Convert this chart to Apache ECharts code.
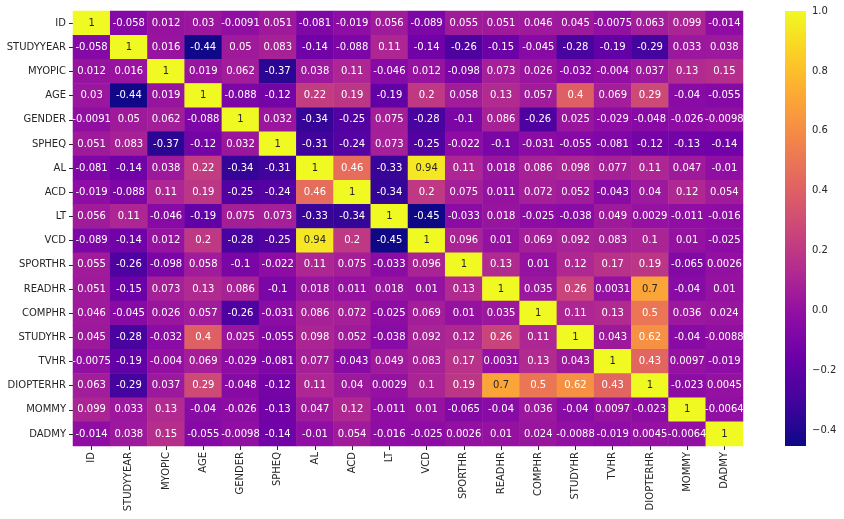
<!DOCTYPE html>
<html><head><meta charset="utf-8">
<script src="https://cdn.jsdelivr.net/npm/echarts@6/dist/echarts.min.js"></script>
<style>html,body{margin:0;padding:0;background:#fff}#c{width:844px;height:519px}</style>
</head><body><div id="c"></div>
<script>
const labels = ['ID','STUDYYEAR','MYOPIC','AGE','GENDER','SPHEQ','AL','ACD','LT','VCD','SPORTHR','READHR','COMPHR','STUDYHR','TVHR','DIOPTERHR','MOMMY','DADMY'];
const rowID        = [1,-0.058,0.012,0.03,-0.0091,0.051,-0.081,-0.019,0.056,-0.089,0.055,0.051,0.046,0.045,-0.0075,0.063,0.099,-0.014];
const rowSTUDYYEAR = [-0.058,1,0.016,-0.44,0.05,0.083,-0.14,-0.088,0.11,-0.14,-0.26,-0.15,-0.045,-0.28,-0.19,-0.29,0.033,0.038];
const rowMYOPIC    = [0.012,0.016,1,0.019,0.062,-0.37,0.038,0.11,-0.046,0.012,-0.098,0.073,0.026,-0.032,-0.004,0.037,0.13,0.15];
const rowAGE       = [0.03,-0.44,0.019,1,-0.088,-0.12,0.22,0.19,-0.19,0.2,0.058,0.13,0.057,0.4,0.069,0.29,-0.04,-0.055];
const rowGENDER    = [-0.0091,0.05,0.062,-0.088,1,0.032,-0.34,-0.25,0.075,-0.28,-0.1,0.086,-0.26,0.025,-0.029,-0.048,-0.026,-0.0098];
const rowSPHEQ     = [0.051,0.083,-0.37,-0.12,0.032,1,-0.31,-0.24,0.073,-0.25,-0.022,-0.1,-0.031,-0.055,-0.081,-0.12,-0.13,-0.14];
const rowAL        = [-0.081,-0.14,0.038,0.22,-0.34,-0.31,1,0.46,-0.33,0.94,0.11,0.018,0.086,0.098,0.077,0.11,0.047,-0.01];
const rowACD       = [-0.019,-0.088,0.11,0.19,-0.25,-0.24,0.46,1,-0.34,0.2,0.075,0.011,0.072,0.052,-0.043,0.04,0.12,0.054];
const rowLT        = [0.056,0.11,-0.046,-0.19,0.075,0.073,-0.33,-0.34,1,-0.45,-0.033,0.018,-0.025,-0.038,0.049,0.0029,-0.011,-0.016];
const rowVCD       = [-0.089,-0.14,0.012,0.2,-0.28,-0.25,0.94,0.2,-0.45,1,0.096,0.01,0.069,0.092,0.083,0.1,0.01,-0.025];
const rowSPORTHR   = [0.055,-0.26,-0.098,0.058,-0.1,-0.022,0.11,0.075,-0.033,0.096,1,0.13,0.01,0.12,0.17,0.19,-0.065,0.0026];
const rowREADHR    = [0.051,-0.15,0.073,0.13,0.086,-0.1,0.018,0.011,0.018,0.01,0.13,1,0.035,0.26,0.0031,0.7,-0.04,0.01];
const rowCOMPHR    = [0.046,-0.045,0.026,0.057,-0.26,-0.031,0.086,0.072,-0.025,0.069,0.01,0.035,1,0.11,0.13,0.5,0.036,0.024];
const rowSTUDYHR   = [0.045,-0.28,-0.032,0.4,0.025,-0.055,0.098,0.052,-0.038,0.092,0.12,0.26,0.11,1,0.043,0.62,-0.04,-0.0088];
const rowTVHR      = [-0.0075,-0.19,-0.004,0.069,-0.029,-0.081,0.077,-0.043,0.049,0.083,0.17,0.0031,0.13,0.043,1,0.43,0.0097,-0.019];
const rowDIOPTERHR = [0.063,-0.29,0.037,0.29,-0.048,-0.12,0.11,0.04,0.0029,0.1,0.19,0.7,0.5,0.62,0.43,1,-0.023,0.0045];
const rowMOMMY     = [0.099,0.033,0.13,-0.04,-0.026,-0.13,0.047,0.12,-0.011,0.01,-0.065,-0.04,0.036,-0.04,0.0097,-0.023,1,-0.0064];
const rowDADMY     = [-0.014,0.038,0.15,-0.055,-0.0098,-0.14,-0.01,0.054,-0.016,-0.025,0.0026,0.01,0.024,-0.0088,-0.019,0.0045,-0.0064,1];
const colorbarTicks = [-0.4,-0.2,0,0.2,0.4,0.6,0.8,1.0];
const vMin = -0.452, vMax = 1.0;

const rows = [rowID,rowSTUDYYEAR,rowMYOPIC,rowAGE,rowGENDER,rowSPHEQ,rowAL,rowACD,rowLT,rowVCD,rowSPORTHR,rowREADHR,rowCOMPHR,rowSTUDYHR,rowTVHR,rowDIOPTERHR,rowMOMMY,rowDADMY];
const plasma = ['#0d0887','#41049d','#6a00a8','#8f0da4','#b12a90','#cc4778','#e16462','#f2844b','#fca636','#fcce25','#f0f921'];

const data = [];
rows.forEach((r, i) => r.forEach((v, j) => {
  data.push({value: [j, i, v], label: {color: v > 0.65 ? '#262626' : '#ffffff'}});
}));
const fmt = v => String(Number(v.toPrecision(2)));
const FONT = 'DejaVu Sans';

const chart = echarts.init(document.getElementById('c'), null, {renderer: 'canvas'});
chart.setOption({
  animation: false,
  backgroundColor: '#ffffff',
  textStyle: {fontFamily: FONT},
  grid: [
    {left: 73, top: 11, width: 670, height: 435},
    {left: 785, top: 11, width: 21, height: 435}
  ],
  xAxis: [
    {type: 'category', data: labels, gridIndex: 0, position: 'bottom',
     axisLine: {show: false}, splitLine: {show: false},
     axisTick: {show: true, alignWithLabel: true, length: 4, lineStyle: {color: '#262626'}},
     axisLabel: {rotate: 90, interval: 0, margin: 6, color: '#262626', fontSize: 10, fontFamily: FONT}},
    {type: 'value', gridIndex: 1, show: false, min: 0, max: 1}
  ],
  yAxis: [
    {type: 'category', data: labels, gridIndex: 0, inverse: true,
     axisLine: {show: false}, splitLine: {show: false},
     axisTick: {show: true, alignWithLabel: true, length: 4, lineStyle: {color: '#262626'}},
     axisLabel: {interval: 0, margin: 7, color: '#262626', fontSize: 10, fontFamily: FONT}},
    {type: 'value', gridIndex: 1, position: 'right', min: vMin, max: vMax,
     axisLine: {show: false}, splitLine: {show: false},
     axisTick: {show: true, length: 4, customValues: colorbarTicks, lineStyle: {color: '#262626'}},
     axisLabel: {show: true, margin: 6, customValues: colorbarTicks, color: '#262626', fontSize: 10, fontFamily: FONT,
       formatter: v => (v < 0 ? '\u2212' : '') + Math.abs(v).toFixed(1)}}
  ],
  visualMap: {
    type: 'continuous', seriesIndex: 0, min: vMin, max: vMax, show: false,
    inRange: {color: plasma}
  },
  series: [
    {type: 'heatmap', xAxisIndex: 0, yAxisIndex: 0, data: data,
     label: {show: true, fontSize: 10, fontFamily: FONT, formatter: p => fmt(p.value[2])},
     itemStyle: {borderWidth: 0},
     emphasis: {disabled: true}},
    {type: 'custom', xAxisIndex: 1, yAxisIndex: 1, silent: true,
     data: [[0, vMin, 1, vMax]],
     renderItem: (params, api) => {
       const p0 = api.coord([api.value(0), api.value(3)]);
       const p1 = api.coord([api.value(2), api.value(1)]);
       return {type: 'rect', shape: {x: p0[0], y: p0[1], width: p1[0] - p0[0], height: p1[1] - p0[1]},
         style: {fill: new echarts.graphic.LinearGradient(0, 1, 0, 0,
           plasma.map((c, k) => ({offset: k / (plasma.length - 1), color: c})))}};
     }}
  ]
});
</script></body></html>
